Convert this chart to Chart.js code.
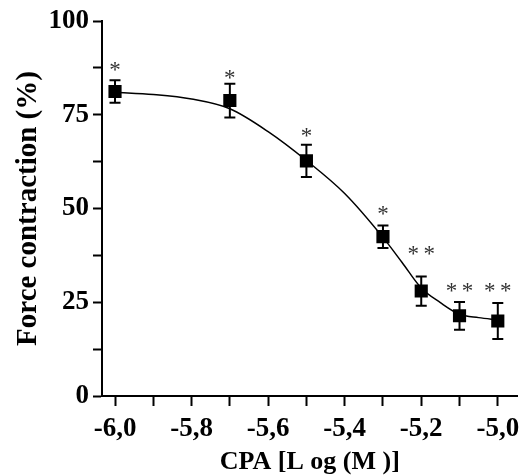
<!DOCTYPE html>
<html>
<head>
<meta charset="utf-8">
<script src="https://cdn.jsdelivr.net/npm/chart.js@4.4.1/dist/chart.umd.min.js"></script>
<style>
  html, body { margin: 0; padding: 0; background: #fff; }
  #wrap { width: 527px; height: 475px; }
</style>
</head>
<body>
<div id="wrap"><canvas id="c" width="527" height="475"></canvas></div>
<script>
// ---- data ----
const doseLog = [-6.0, -5.7, -5.5, -5.3, -5.2, -5.1, -5.0];
const forceMean = [81.2, 78.8, 62.7, 42.5, 28.0, 21.4, 20.0];
const forceSem = [3.0, 4.5, 4.3, 3.0, 3.9, 3.7, 4.8];
const sigMarks = ['*', '*', '*', '*', '**', '**', '**'];
const sigLevel = [87.6, 85.3, 69.8, 49.0, 38.3, 28.5, 28.5];

const fitX = [-6.0, -5.9, -5.8, -5.7, -5.6, -5.5, -5.4, -5.3, -5.25, -5.2, -5.15, -5.1, -5.05, -5.0];
const fitY = [81.0, 80.4, 79.2, 76.6, 70.5, 62.8, 54.0, 42.3, 35.6, 28.8, 24.9, 21.8, 20.9, 20.3];

const xTickValues = [-6.0, -5.9, -5.8, -5.7, -5.6, -5.5, -5.4, -5.3, -5.2, -5.1, -5.0];
const xTickLabels = ['-6,0', '', '-5,8', '', '-5,6', '', '-5,4', '', '-5,2', '', '-5,0'];
const yTickValues = [0, 12.5, 25, 37.5, 50, 62.5, 75, 87.5, 100];
const yTickLabels = ['0', '', '25', '', '50', '', '75', '', '100'];

const xTitle = 'CPA [L og (M )]';
const yTitle = 'Force contraction (%)';

const FONT = "'Liberation Serif', 'Times New Roman', serif";

const errorBars = {
  id: 'errorBars',
  beforeDatasetsDraw(chart) {
    const ctx = chart.ctx, xs = chart.scales.x, ys = chart.scales.y;
    ctx.save();
    ctx.strokeStyle = '#000';
    ctx.lineWidth = 2;
    for (let i = 0; i < doseLog.length; i++) {
      const x = xs.getPixelForValue(doseLog[i]);
      const yt = ys.getPixelForValue(forceMean[i] + forceSem[i]);
      const yb = ys.getPixelForValue(forceMean[i] - forceSem[i]);
      ctx.beginPath();
      ctx.moveTo(x, yt); ctx.lineTo(x, yb);
      ctx.moveTo(x - 5.5, yt); ctx.lineTo(x + 5.5, yt);
      ctx.moveTo(x - 5.5, yb); ctx.lineTo(x + 5.5, yb);
      ctx.stroke();
    }
    ctx.restore();
  },
  afterDatasetsDraw(chart) {
    const ctx = chart.ctx, xs = chart.scales.x, ys = chart.scales.y;
    ctx.save();
    ctx.fillStyle = '#333';
    ctx.font = "23px " + FONT;
    ctx.textAlign = 'center';
    ctx.textBaseline = 'middle';
    for (let i = 0; i < doseLog.length; i++) {
      const x = xs.getPixelForValue(doseLog[i]);
      const y = ys.getPixelForValue(sigLevel[i]) + 3;
      const n = sigMarks[i].length;
      for (let k = 0; k < n; k++) {
        const dx = (k - (n - 1) / 2) * 16;
        ctx.fillText('*', x + dx, y);
      }
    }
    ctx.restore();
  }
};

new Chart(document.getElementById('c'), {
  type: 'scatter',
  data: {
    datasets: [
      {
        label: 'Mean',
        data: doseLog.map((x, i) => ({ x: x, y: forceMean[i] })),
        pointStyle: 'rect',
        pointRadius: 9.3,
        pointHoverRadius: 9.3,
        backgroundColor: '#000',
        borderColor: '#000',
        borderWidth: 0,
        showLine: false,
        order: 0
      },
      {
        label: 'Fit',
        data: fitX.map((x, i) => ({ x: x, y: fitY[i] })),
        showLine: true,
        pointRadius: 0,
        borderColor: '#000',
        borderWidth: 1.5,
        cubicInterpolationMode: 'monotone',
        fill: false,
        order: 1
      }
    ]
  },
  options: {
    responsive: false,
    animation: false,
    devicePixelRatio: 1,
    layout: { padding: { top: 21, right: 7, left: 0, bottom: 0 } },
    plugins: { legend: { display: false }, tooltip: { enabled: false } },
    scales: {
      x: {
        type: 'linear',
        min: -6.034,
        max: -4.948,
        afterBuildTicks(scale) { scale.ticks = xTickValues.map(v => ({ value: v })); },
        afterFit(scale) { scale.height = 79; },
        border: { display: true, color: '#000', width: 2 },
        grid: { drawOnChartArea: false, drawTicks: true, tickLength: 10, tickColor: '#000', tickWidth: 2 },
        ticks: {
          color: '#000',
          padding: 7,
          maxRotation: 0,
          autoSkip: false,
          font: { family: FONT, size: 27, weight: 'bold' },
          callback(value, index) { return xTickLabels[index]; }
        },
        title: {
          display: true,
          text: xTitle,
          color: '#000',
          font: { family: FONT, size: 26, weight: 'bold', lineHeight: 1 },
          padding: { top: 0, bottom: 0 }
        }
      },
      y: {
        type: 'linear',
        min: 0,
        max: 100,
        afterBuildTicks(scale) { scale.ticks = yTickValues.map(v => ({ value: v })); },
        afterFit(scale) { scale.width = 102; },
        border: { display: true, color: '#000', width: 2 },
        grid: { drawOnChartArea: false, drawTicks: true, tickLength: 9, tickColor: '#000', tickWidth: 2 },
        ticks: {
          color: '#000',
          padding: 4,
          autoSkip: false,
          font: { family: FONT, size: 27, weight: 'bold' },
          callback(value, index) { return yTickLabels[index]; }
        },
        title: {
          display: true,
          text: yTitle,
          color: '#000',
          font: { family: FONT, size: 29, weight: 'bold', lineHeight: 1.2 },
          padding: { top: 11, bottom: 0 }
        }
      }
    }
  },
  plugins: [errorBars]
});
</script>
</body>
</html>
